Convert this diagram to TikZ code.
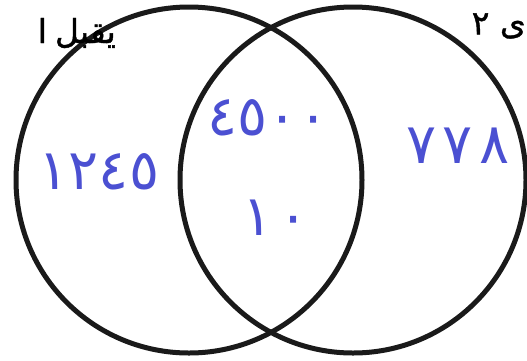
\documentclass[tikz,border=0pt]{standalone}
\usepackage{fontspec}
\TeXXeTstate=1
\newfontfamily\arabicfont[Script=Arabic,FakeBold=1.2]{DejaVu Sans}
\newfontfamily\digitfont{DejaVu Sans}
\definecolor{ink}{HTML}{4B50D2}
\definecolor{ringcol}{HTML}{1A1A1A}
\begin{document}
\begin{tikzpicture}[x=1pt,y=-1pt,
  ring/.style={circle, draw=ringcol, line width=5pt, minimum size=346pt, inner sep=0pt},
  hand/.style={text=ink, font=\digitfont\fontsize{56}{56}\selectfont, inner sep=0pt},
  lbl/.style={font=\arabicfont\fontsize{33}{38}\selectfont, inner sep=0pt}]
\useasboundingbox (0,0) rectangle (527,360);
\clip (0,0) rectangle (527,360);
\fill[white] (0,0) rectangle (527,360);
\node[ring] (A) at (189,180) {};
\node[ring] (B) at (353,180) {};
\node[lbl, anchor=east] (la) at (116,33) {\beginR يقبل\hspace{8pt}ا\endR};
\node[lbl, anchor=east] (lb) at (526,26) {\beginR ى ٢\endR};
\node[hand] (n1) at (99,172) {١٢٤٥};
\node[hand] (n2) at (268,118) {٤٥٠٠};
\node[hand] (n3) at (276,218) {١\hspace{6pt}٠};
\node[hand] (n4) at (458,146) {٧\hspace{6pt}٧\hspace{6pt}٨};
\end{tikzpicture}
\end{document}
